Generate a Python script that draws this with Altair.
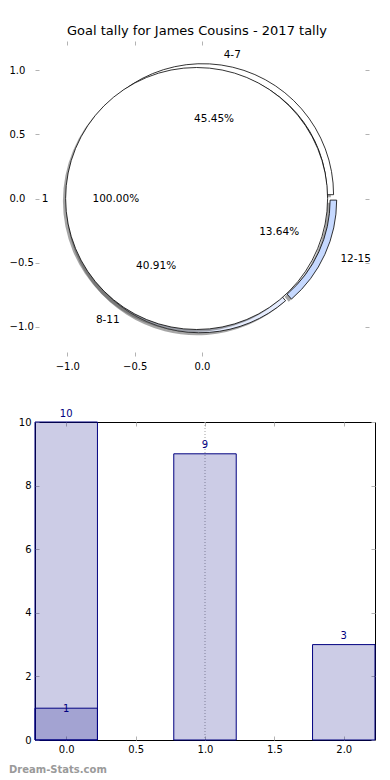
import math
import altair as alt
import pandas as pd

# ---------------- data ----------------
TITLE = "Goal tally for James Cousins - 2017 tally"

ring_labels = ["4-7", "8-11", "12-15"]
ring_goals = [10, 9, 3]
ring_colors = ["#ffffff", "#e6edff", "#c6d9ff"]

inner_labels = ["1"]
inner_goals = [1]
inner_colors = ["#ffffff"]

pie_x_ticks = [-1.0, -0.5, 0.0]
pie_y_ticks = [-1.0, -0.5, 0.0, 0.5, 1.0]

bar_positions = [0, 1, 2]
bar_values = [10, 9, 3]
overlay_positions = [0]
overlay_values = [1]
grid_x = [1.0]
bar_x_ticks = [0.0, 0.5, 1.0, 1.5, 2.0]
bar_y_ticks = [0, 2, 4, 6, 8, 10]
WATERMARK = "Dream-Stats.com"

# ---------------- styles ----------------
FONT = "DejaVu Sans"
NAVY = "#000080"
TICK = 4
TICK_COLOR = "#b3b3b3"
R_PX = 131          # pie radius (1.0 data units) in pixels
RING_IN = 0.95      # ring inner radius fraction
LEFT_EXTENT = 26    # room left of the plot areas for labels

PIE_W, PIE_H = 334, 315
BAR_W, BAR_H = 340, 318

xs_pie = alt.Scale(domain=[-1.24, 1.24], nice=False, zero=False)
ys_pie = alt.Scale(domain=[-1.23, 1.23], nice=False, zero=False)
theta_scale = alt.Scale(domain=[0, 1], range=[math.pi / 2, math.pi / 2 - 2 * math.pi])

xs_bar = alt.Scale(domain=[-0.225, 2.225], nice=False, zero=False)
ys_bar = alt.Scale(domain=[0, 10], nice=False, zero=False)


def tick_axis(orient, values, labels=True, fmt=".1f", pad=5, align=None):
    kw = dict(orient=orient, values=values, offset=-TICK, tickSize=TICK,
              tickColor=TICK_COLOR, tickWidth=1, domain=False, grid=False)
    if labels:
        kw.update(labels=True, format=fmt, labelPadding=pad, labelFont=FONT,
                  labelFontSize=10, labelColor="#000000")
        if align:
            kw.update(labelAlign=align)
    else:
        kw.update(labels=False)
    return alt.Axis(**kw)


def pie_source(labels, goals, explode):
    df = pd.DataFrame({"label": labels, "goals": goals})
    return (
        alt.Chart(df)
        .transform_joinaggregate(total="sum(goals)")
        .transform_window(cum="sum(goals)", frame=[None, 0])
        .transform_calculate(
            a1="datum.cum / datum.total",
            a0="(datum.cum - datum.goals) / datum.total",
        )
        .transform_calculate(mid="PI * (datum.a0 + datum.a1)")
        .transform_calculate(
            cx=f"{explode} * cos(datum.mid)",
            cy=f"{explode} * sin(datum.mid)",
        )
        .transform_calculate(
            sx="datum.cx - 0.02",
            sy="datum.cy - 0.02",
            lx="datum.cx + 1.1 * cos(datum.mid)",
            ly="datum.cy + 1.1 * sin(datum.mid)",
            px="datum.cx + 0.6 * cos(datum.mid)",
            py="datum.cy + 0.6 * sin(datum.mid)",
            cosm="cos(datum.mid)",
            pct="format(100 * datum.goals / datum.total, '.2f') + '%'",
        )
    )


ring = pie_source(ring_labels, ring_goals, 0.03)
inner = pie_source(inner_labels, inner_goals, 0.04)


def arc_enc(xf, yf, xaxis=None, yaxis=None):
    return dict(
        x=alt.X(f"{xf}:Q", scale=xs_pie, axis=xaxis, title=None),
        y=alt.Y(f"{yf}:Q", scale=ys_pie, axis=yaxis, title=None),
        theta=alt.Theta("a0:Q", scale=theta_scale, stack=None),
        theta2="a1:Q",
    )


shadow_ring = ring.mark_arc(outerRadius=R_PX, innerRadius=R_PX * RING_IN, fill="#4d4d4d",
                            fillOpacity=0.5).encode(**arc_enc("sx", "sy"))

ring_arc = ring.mark_arc(outerRadius=R_PX, innerRadius=R_PX * RING_IN, stroke="#000000",
                         strokeWidth=0.8).encode(
    fill=alt.Fill("label:N", scale=alt.Scale(domain=ring_labels, range=ring_colors),
                  legend=None),
    **arc_enc("cx", "cy",
              xaxis=tick_axis("top", pie_x_ticks, labels=False),
              yaxis=tick_axis("right", pie_y_ticks, labels=False)),
)

shadow_inner = inner.mark_arc(outerRadius=R_PX, innerRadius=0, fill="#4d4d4d",
                              fillOpacity=0.5).encode(**arc_enc("sx", "sy"))

inner_arc = inner.mark_arc(outerRadius=R_PX, innerRadius=0, stroke="#000000",
                           strokeWidth=0.8, fill=inner_colors[0]).encode(
    **arc_enc("cx", "cy",
              xaxis=tick_axis("bottom", pie_x_ticks, pad=5),
              yaxis=tick_axis("left", pie_y_ticks, pad=LEFT_EXTENT, align="left")),
)


def text_layers(src):
    common = dict(fontSize=10.5, font=FONT, color="#000000", baseline="middle")
    enc_l = dict(x=alt.X("lx:Q", scale=xs_pie, axis=None),
                 y=alt.Y("ly:Q", scale=ys_pie, axis=None), text="label:N")
    right = src.transform_filter("datum.cosm > 0").mark_text(align="left", **common).encode(**enc_l)
    left = src.transform_filter("datum.cosm <= 0").mark_text(align="right", **common).encode(**enc_l)
    pct = src.mark_text(align="center", **common).encode(
        x=alt.X("px:Q", scale=xs_pie, axis=None),
        y=alt.Y("py:Q", scale=ys_pie, axis=None),
        text="pct:N",
    )
    return [right, left, pct]


pie_panel = alt.layer(
    shadow_ring, ring_arc, shadow_inner, inner_arc,
    *text_layers(ring), *text_layers(inner),
).resolve_axis(x="independent", y="independent").properties(
    width=PIE_W, height=PIE_H,
    title=alt.TitleParams(TITLE, font=FONT, fontSize=13, fontWeight="normal",
                          color="#000000", offset=3, anchor="middle", dx=-5),
)

# ---------------- bar panel ----------------
bars_df = pd.DataFrame({"pos": bar_positions, "value": bar_values})
over_df = pd.DataFrame({"pos": overlay_positions, "value": overlay_values})
grid_df = pd.DataFrame({"gx": grid_x})

HALF = 0.225


def bar_layer(df, xaxis=None, yaxis=None):
    return alt.Chart(df).transform_calculate(
        x0=f"datum.pos - {HALF}", x1=f"datum.pos + {HALF}", base="0"
    ).mark_bar(fill=NAVY, fillOpacity=0.2, stroke=NAVY, strokeWidth=1).encode(
        x=alt.X("x0:Q", scale=xs_bar, axis=xaxis, title=None),
        x2="x1:Q",
        y=alt.Y("value:Q", scale=ys_bar, axis=yaxis, title=None),
        y2="base:Q",
    )


grid_rule = alt.Chart(grid_df).mark_rule(strokeDash=[1, 2], color="#a0a0a0",
                                         strokeWidth=1).encode(
    x=alt.X("gx:Q", scale=xs_bar, axis=None)
)

bars = bar_layer(bars_df,
                 xaxis=tick_axis("bottom", bar_x_ticks, pad=4),
                 yaxis=tick_axis("left", bar_y_ticks, fmt="d", pad=4))
overlay = bar_layer(over_df,
                    xaxis=tick_axis("top", bar_x_ticks, labels=False),
                    yaxis=tick_axis("right", bar_y_ticks, labels=False))

bar_text = alt.Chart(bars_df).mark_text(baseline="alphabetic", dy=-5.5, color=NAVY,
                                        fontSize=10, font=FONT).encode(
    x=alt.X("pos:Q", scale=xs_bar, axis=None),
    y=alt.Y("value:Q", scale=ys_bar, axis=None),
    text="value:Q",
)
over_text = alt.Chart(over_df).mark_text(baseline="alphabetic", dy=3.7, color=NAVY,
                                         fontSize=10, font=FONT).encode(
    x=alt.X("pos:Q", scale=xs_bar, axis=None),
    y=alt.Y("value:Q", scale=ys_bar, axis=None),
    text="value:Q",
)

wm = alt.Chart(pd.DataFrame({"t": [WATERMARK]})).mark_text(
    align="left", baseline="middle", font=FONT, fontSize=10, fontWeight="bold",
    color="#9a9a9a",
).encode(x=alt.value(-LEFT_EXTENT), y=alt.value(BAR_H + 30), text="t:N")

bar_panel = alt.layer(
    grid_rule, bars, overlay, bar_text, over_text, wm
).resolve_axis(x="independent", y="independent").properties(
    width=BAR_W, height=BAR_H,
    view={"stroke": "#000000", "strokeWidth": 1},
)

chart = alt.vconcat(pie_panel, bar_panel, spacing=36).properties(
    padding={"left": 0, "top": 16, "right": 0, "bottom": 0},
    background="#ffffff",
).configure_view(stroke="transparent")

chart.save("out.html", embed_options={"renderer": "svg", "actions": False})
